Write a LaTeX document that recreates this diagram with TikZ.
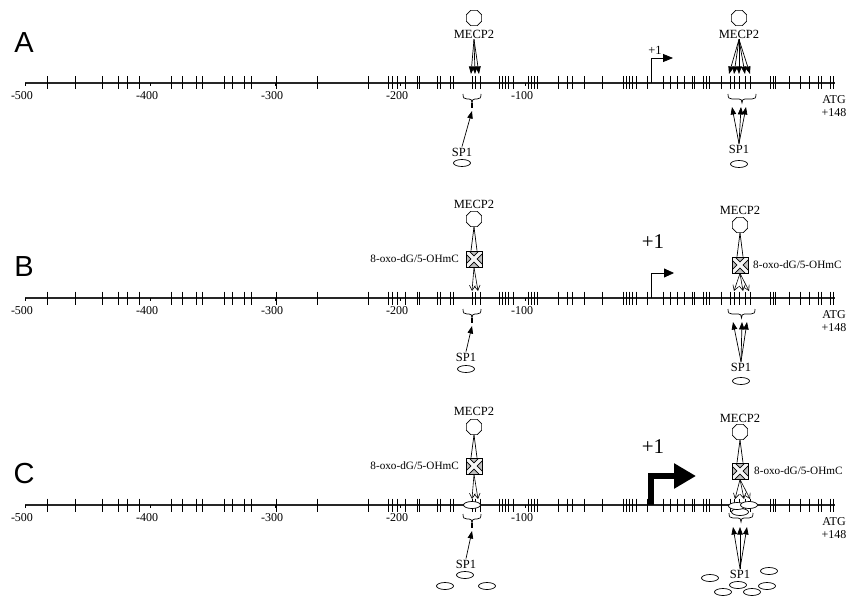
\documentclass[tikz,border=0pt]{standalone}
\usepackage{fontspec}
\setmainfont{Liberation Serif}
\newfontfamily\panelfont{Liberation Sans}
\usetikzlibrary{shapes.geometric,arrows.meta}
\tikzset{
  axisline/.style={line width=1.2pt, black!85},
  cpg/.style={line width=0.85pt},
  oct/.style={draw, regular polygon, regular polygon sides=8, minimum size=16.5pt, inner sep=0pt, line width=0.7pt},
  lbl/.style={font=\fontsize{12.5}{12}\selectfont, inner sep=1pt},
  sclbl/.style={font=\fontsize{12}{12}\selectfont, inner sep=0pt},
  oxlbl/.style={font=\fontsize{11.2}{11}\selectfont, inner sep=0pt},
  biglbl/.style={font=\fontsize{21}{21}\selectfont, inner sep=0pt},
  panel/.style={font=\panelfont\fontsize{29}{29}\selectfont, inner sep=0pt},
  sp/.style={draw, ellipse, fill=white, minimum width=17pt, minimum height=7pt, inner sep=0pt, line width=0.7pt},
  xbox/.style={draw, fill=gray!50, minimum size=16pt, inner sep=0pt, line width=0.7pt,
    path picture={
      \draw[black, line width=5pt] (path picture bounding box.north west) -- (path picture bounding box.south east)
        (path picture bounding box.north east) -- (path picture bounding box.south west);
      \draw[white!92!gray, line width=3.4pt] (path picture bounding box.north west) -- (path picture bounding box.south east)
        (path picture bounding box.north east) -- (path picture bounding box.south west);}},
  fa/.style={-{Triangle[length=7.5pt,width=5.5pt]}, line width=0.7pt},
  oa/.style={-{Straight Barb[length=5pt,width=6pt]}, line width=0.6pt},
  thinl/.style={line width=0.7pt},
}
\newcommand\brc[3]{%
  \draw[line width=0.7pt] (#1,#3) .. controls (#1,#3+4) and (#1+1,#3+5) .. (#1+4,#3+5)
   -- ({(#1+#2)/2-3},#3+5) .. controls ({(#1+#2)/2-1},#3+5) and ({(#1+#2)/2},#3+6) .. ({(#1+#2)/2},#3+9)
   .. controls ({(#1+#2)/2},#3+6) and ({(#1+#2)/2+1},#3+5) .. ({(#1+#2)/2+3},#3+5)
   -- (#2-4,#3+5) .. controls (#2-1,#3+5) and (#2,#3+4) .. (#2,#3);}
\begin{document}
\begin{tikzpicture}[x=1pt,y=-1pt]
\useasboundingbox (0,0) rectangle (859,596);
\def\cpglist{47.7,75,102,118,127,139,171,182,196,202,224,232,244,251,276,317,368,388,392,397,405,417,419,437,440,450,453,472,475,480,499,502,505,508,513,528,531,534,537,558,567,572,584,602,623,626,629,632,636,647,663,670,677,684,692,694,703,706,709,721,730,734,739,745,750,770,773,775,789,800,809,818,821,830,833}
\foreach \Y/\P in {83/A,298/B,505/C}{
  \draw[axisline] (25,\Y) -- (835,\Y);
  \foreach \t in \cpglist { \draw[cpg] (\t,\Y-6.5) -- (\t,\Y+6.5); }
  \foreach \x/\l in {25/-500,150/-400,275/-300,400/-200,525/-100}{
    \draw[cpg] (\x,\Y) -- (\x,\Y+3);
    \node[sclbl] (s\P\x) at (\x-3,\Y+13) {\l};
  }
  \node[sclbl] (atg\P) at (834,\Y+17) {ATG};
  \node[sclbl] (end\P) at (834,\Y+30) {+148};
}
\node[panel] (labA) at (24,43) {A};
\node[panel] (labB) at (24,267) {B};
\node[panel] (labC) at (24,474) {C};

% ===== Panel A =====
\node[oct] (octAL) at (474,18) {};
\node[lbl] (meAL) at (474,34) {MECP2};
\foreach \x in {471,475,479} \draw[fa] (meAL.south) -- (\x,74);
\node[oct] (octAR) at (739,18) {};
\node[lbl] (meAR) at (739,34) {MECP2};
\foreach \x in {729,734,739,745,750} \draw[fa] (meAR.south) -- (\x,74);
\brc{463}{481}{94}
\draw[line width=1.6pt] (472,103) -- (472,108);
\coordinate (tAL) at (472,111);
\node[lbl] (spAL) at (462,152) {SP1};
\node[sp] (elAL) at (462,163) {};
\draw[fa] (spAL.north) -- (tAL);
\brc{728}{756}{94}
\node[lbl] (spAR) at (739,149) {SP1};
\node[sp] (elAR) at (739,164) {};
\foreach \x in {732,741,746} \draw[fa] (spAR.north) -- (\x,107);
\coordinate (pA0) at (651,83);
\coordinate (pA1) at (651,58);
\coordinate (pA2) at (673,58);
\draw[line width=0.8pt, -{Triangle[length=10pt,width=8pt]}] (pA0) -- (pA1) -- (pA2);
\node[lbl] (oneA) at (655,50) {+1};

% ===== Panel B =====
\node[lbl] (meBL) at (474,204) {MECP2};
\node[oct] (octBL) at (474,219) {};
\node[xbox] (bxBL) at (474,259) {};
\node[oxlbl, anchor=east] (oxBL) at (459,259) {8-oxo-dG/5-OHmC};
\draw[thinl] (octBL.south) -- ([xshift=-3pt]bxBL.north);
\draw[thinl] (octBL.south) -- ([xshift=3pt]bxBL.north);
\foreach \x in {472,478} \draw[oa] (bxBL.south) -- (\x,291);
\brc{463}{481}{309}
\draw[line width=1.6pt] (472,318) -- (472,323);
\coordinate (tBL) at (472,326);
\node[lbl] (spBL) at (466,357) {SP1};
\node[sp] (elBL) at (466,369) {};
\draw[fa] (spBL.north) -- (tBL);

\node[lbl] (meBR) at (740,210) {MECP2};
\node[oct] (octBR) at (740,225) {};
\node[xbox] (bxBR) at (740,265) {};
\node[oxlbl, anchor=west] (oxBR) at (753,265) {8-oxo-dG/5-OHmC};
\draw[thinl] (octBR.south) -- ([xshift=-3pt]bxBR.north);
\draw[thinl] (octBR.south) -- ([xshift=3pt]bxBR.north);
\foreach \x in {734,743,749} \draw[oa] (bxBR.south) -- (\x,291);
\brc{728}{755}{309}
\node[lbl] (spBR) at (741,367) {SP1};
\node[sp] (elBR) at (741,381) {};
\foreach \x in {733,742,747} \draw[fa] (spBR.north) -- (\x,322);
\coordinate (pB0) at (651,298);
\coordinate (pB1) at (651,273);
\coordinate (pB2) at (674,273);
\draw[line width=0.8pt, -{Triangle[length=10pt,width=9pt]}] (pB0) -- (pB1) -- (pB2);
\node[biglbl] (oneB) at (653,242) {+1};

% ===== Panel C =====
\node[lbl] (meCL) at (474,411) {MECP2};
\node[oct] (octCL) at (474,427) {};
\node[xbox] (bxCL) at (474,466) {};
\node[oxlbl, anchor=east] (oxCL) at (459,466) {8-oxo-dG/5-OHmC};
\draw[thinl] (octCL.south) -- ([xshift=-3pt]bxCL.north);
\draw[thinl] (octCL.south) -- ([xshift=3pt]bxCL.north);
\brc{463}{481}{514}
\node[sp] (onCL) at (472,505) {};
\foreach \x in {472,478} \draw[oa] (bxCL.south) -- (\x,499);
\draw[line width=1.6pt] (472,523) -- (472,528);
\coordinate (tCL) at (472,531);
\node[lbl] (spCL) at (466,564) {SP1};
\draw[fa] (spCL.north) -- (tCL);
\node[sp] (e1CL) at (465,575) {};
\node[sp] (e2CL) at (445,586) {};
\node[sp] (e3CL) at (487,586) {};

\node[lbl] (meCR) at (740,418) {MECP2};
\node[oct] (octCR) at (740,432) {};
\node[xbox] (bxCR) at (740,471) {};
\node[oxlbl, anchor=west] (oxCR) at (754,471) {8-oxo-dG/5-OHmC};
\draw[thinl] (octCR.south) -- ([xshift=-3pt]bxCR.north);
\draw[thinl] (octCR.south) -- ([xshift=3pt]bxCR.north);
\brc{729}{753}{513}
\node[sp] (o3CR) at (740,512) {};
\node[sp] (o1CR) at (737,506) {};
\node[sp] (o2CR) at (749,505) {};
\foreach \x in {735,744,750} \draw[oa] (bxCR.south) -- (\x,499);
\node[lbl] (spCR) at (740,574) {SP1};
\foreach \x in {733,740,747} \draw[fa] (spCR.north) -- (\x,527);
\node[sp] (e1CR) at (710,578) {};
\node[sp] (e2CR) at (769,571) {};
\node[sp] (e3CR) at (738,585) {};
\node[sp] (e4CR) at (767,586) {};
\node[sp] (e5CR) at (723,592) {};
\node[sp] (e6CR) at (752,592) {};
\coordinate (pC0) at (651,505);
\coordinate (pC1) at (651,476);
\coordinate (pC2) at (696,476);
\draw[line width=6pt, line join=miter, -{Triangle[length=22pt,width=24pt]}] (pC0) -- (pC1) -- (pC2);
\node[biglbl] (oneC) at (653,447) {+1};
\end{tikzpicture}
\end{document}
